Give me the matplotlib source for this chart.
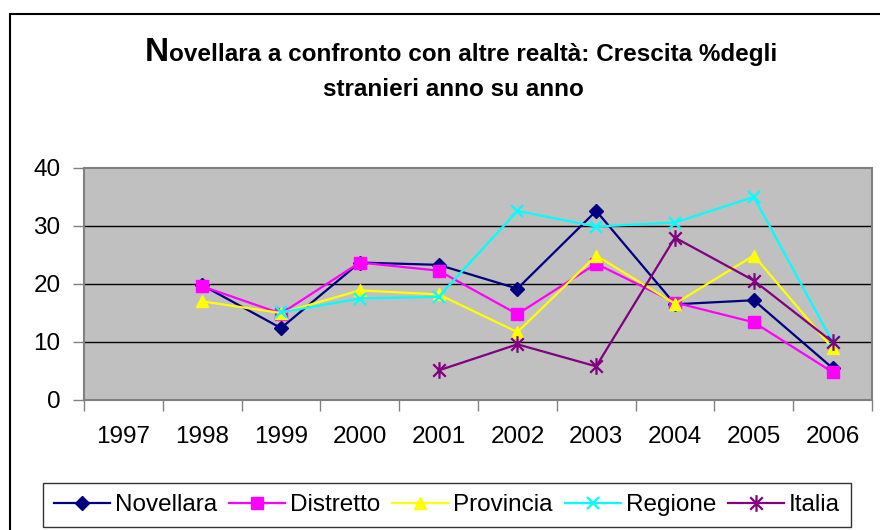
import numpy as np
import matplotlib
matplotlib.use("Agg")
import matplotlib.pyplot as plt
from matplotlib.patches import Rectangle
from matplotlib.path import Path

years = ["1997", "1998", "1999", "2000", "2001", "2002", "2003", "2004", "2005", "2006"]
nan = np.nan
novellara = [nan, 19.8, 12.4, 23.7, 23.3, 19.2, 32.6, 16.5, 17.2, 5.5]
distretto = [nan, 19.6, 14.9, 23.7, 22.3, 14.8, 23.5, 16.8, 13.4, 4.8]
provincia = [nan, 17.0, 15.0, 18.9, 18.2, 11.7, 24.9, 16.6, 24.9, 8.9]
regione = [nan, nan, 15.1, 17.5, 17.8, 32.6, 29.9, 30.6, 35.0, 10.0]
italia = [nan, nan, nan, nan, 5.1, 9.6, 5.8, 28.0, 20.6, 10.0]

# excel-style star: an x with a vertical bar through it
star = Path(
    [(0, -1), (0, 1), (-0.75, -0.75), (0.75, 0.75), (-0.75, 0.75), (0.75, -0.75)],
    [Path.MOVETO, Path.LINETO, Path.MOVETO, Path.LINETO, Path.MOVETO, Path.LINETO],
)

series = [
    ("Novellara", novellara, "#000080", "D", 7, 1),
    ("Distretto", distretto, "#FF00FF", "s", 9, 1),
    ("Provincia", provincia, "#FFFF00", "^", 9, 1),
    ("Regione", regione, "#00FFFF", "x", 9, 1.6),
    ("Italia", italia, "#800080", star, 12, 1.6),
]

plt.rcParams["font.family"] = ["Liberation Sans", "DejaVu Sans"]

fig = plt.figure(figsize=(8.8, 5.3), dpi=100)
ax = fig.add_axes([84 / 880, 130 / 530, 788 / 880, 232 / 530])
ax.set_facecolor("#C0C0C0")

x = np.arange(len(years))
for name, vals, color, marker, ms, mew in series:
    ax.plot(x, vals, color=color, lw=1.6, marker=marker, markersize=ms,
            markeredgewidth=mew, markeredgecolor=color, markerfacecolor=color,
            label=name)

ax.set_xlim(-0.5, len(years) - 0.5)
ax.set_ylim(0, 40)
ax.set_yticks([0, 10, 20, 30, 40])
ax.set_xticks(np.arange(len(years) + 1) - 0.5)
ax.set_xticklabels([])
ax.set_xticks(x, minor=True)
ax.set_xticklabels(years, minor=True)
ax.tick_params(axis="x", which="major", length=8, width=1, color="#808080", direction="out")
ax.tick_params(axis="x", which="minor", length=0, pad=19, labelsize=17.5)
ax.tick_params(axis="y", length=8, width=1, color="#808080", pad=9, labelsize=17.5)
for v in [10, 20, 30]:
    ax.axhline(v, color="black", lw=1, zorder=0.5)
for sp in ax.spines.values():
    sp.set_color("#808080")
    sp.set_linewidth(1.5)

# title: first letter larger
fig.canvas.draw()
r = fig.canvas.get_renderer()
tN = fig.text(0, 0, "N", fontsize=24, fontweight="bold")
tRest = fig.text(0, 0, "ovellara a confronto con altre realtà: Crescita %degli",
                 fontsize=17.5, fontweight="bold")
wN = tN.get_window_extent(r).width
wR = tRest.get_window_extent(r).width
cx = 461
start = cx - (wN + wR) / 2
tN.set_position((start / 880, (530 - 61) / 530))
tRest.set_position(((start + wN) / 880, (530 - 61) / 530))
fig.text(453 / 880, (530 - 89) / 530, "stranieri anno su anno", fontsize=17.5,
         fontweight="bold", ha="center", va="center")

leg = fig.legend(loc="center", bbox_to_anchor=(447 / 880, (530 - 505) / 530),
                 ncol=5, fontsize=17.5, frameon=True, fancybox=False,
                 edgecolor="black", handlelength=2.3, handletextpad=0.2,
                 columnspacing=0.5, borderpad=0.45, borderaxespad=0)
leg.get_frame().set_linewidth(1)

fig.patches.append(Rectangle((10 / 880, -0.1), 1.0, (530 - 14) / 530 + 0.1,
                             transform=fig.transFigure, fill=False,
                             edgecolor="black", lw=1.5))

fig.savefig("out.png", dpi=100)
